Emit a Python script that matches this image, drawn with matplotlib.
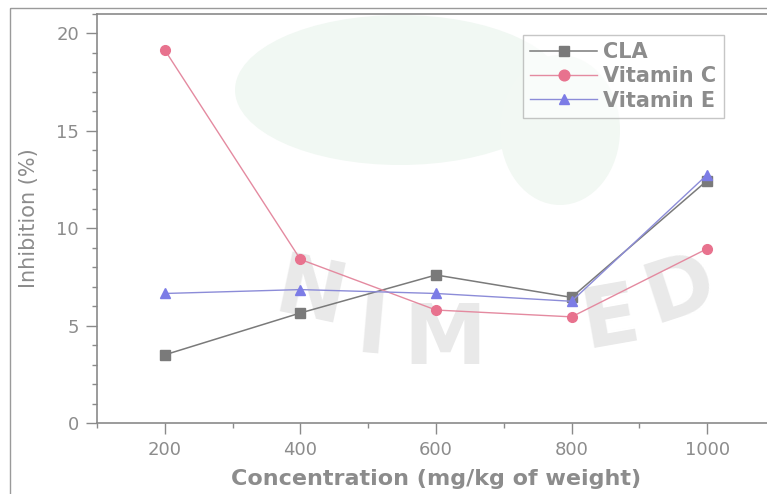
import numpy as np
import matplotlib.pyplot as plt
from matplotlib.patches import Rectangle, Ellipse
from matplotlib.ticker import MultipleLocator

# concentration (mg/kg of weight)
conc = [200, 400, 600, 800, 1000]

# inhibition (%)
cla = [3.5, 5.65, 7.6, 6.45, 12.45]
vit_c = [19.15, 8.4, 5.8, 5.45, 8.95]
vit_e = [6.65, 6.85, 6.65, 6.25, 12.75]

txt_col = "#8c8c8c"
ax_col = "#8a8a8a"

W, H = 767, 494
fig = plt.figure(figsize=(W / 100, H / 100), dpi=100)
fig.patch.set_facecolor("white")

# background layer: watermark and outer frame, in pixel coordinates
bg = fig.add_axes([0, 0, 1, 1], zorder=-1)
bg.set_xlim(0, W)
bg.set_ylim(H, 0)
bg.axis("off")
bg.add_patch(Ellipse((400, 90), 330, 150, facecolor="#f1f8f3", edgecolor="none"))
bg.add_patch(Ellipse((560, 130), 120, 150, facecolor="#f2f8f3", edgecolor="none"))
bg.add_patch(Rectangle((10, 8), W, H, fill=False, edgecolor="#9a9a9a", lw=1.0))

wm = dict(color="#e9e9e9", fontsize=60, fontweight="bold", family="DejaVu Sans",
          ha="center", va="center")
bg.text(310, 295, "N", rotation=-12, **wm)
bg.text(372, 330, "I", rotation=-5, **wm)
bg.text(445, 340, "M", rotation=0, **wm)
bg.text(610, 320, "E", rotation=10, **wm)
bg.text(680, 290, "D", rotation=18, **wm)

# axes placed in pixels: left 97, right ~775, bottom 423, top 14
left, right, bottom, top = 97, 775, 423, 14
ax = fig.add_axes([left / W, 1 - bottom / H, (right - left) / W, (bottom - top) / H])
ax.set_facecolor("none")

ax.plot(conc, cla, color="#7a7a7a", lw=1.1, marker="s", ms=7, mfc="#7a7a7a", mec="#7a7a7a",
        label="CLA", zorder=3)
ax.plot(conc, vit_c, color="#e48aa0", lw=1.0, marker="o", ms=7, mfc="#e8728e", mec="#e8728e",
        label="Vitamin C", zorder=3)
ax.plot(conc, vit_e, color="#8c8cd8", lw=1.0, marker="^", ms=7, mfc="#7c7ce6", mec="#7c7ce6",
        label="Vitamin E", zorder=3)

ax.set_xlim(100, 1100)
ax.set_ylim(0, 21)
ax.xaxis.set_major_locator(MultipleLocator(200))
ax.xaxis.set_minor_locator(MultipleLocator(100))
ax.yaxis.set_major_locator(MultipleLocator(5))
ax.yaxis.set_minor_locator(MultipleLocator(1))

ax.spines["right"].set_visible(False)
for s in ["left", "bottom", "top"]:
    ax.spines[s].set_color(ax_col)
    ax.spines[s].set_linewidth(1.2)

ax.tick_params(axis="both", which="major", direction="out", length=8, width=1, color=ax_col,
               labelcolor=txt_col, labelsize=13, pad=5)
ax.tick_params(axis="both", which="minor", direction="out", length=3.5, width=1, color=ax_col)

ax.set_xlabel("Concentration (mg/kg of weight)", fontsize=16, fontweight="bold", color=txt_col,
              labelpad=7)
ax.set_ylabel("Inhibition (%)", fontsize=15, color=txt_col, labelpad=12)

leg = ax.legend(loc="upper left", bbox_to_anchor=(523 / W, 1 - 35 / H), bbox_transform=fig.transFigure,
                frameon=True, fancybox=False, fontsize=15, handlelength=3.2, handletextpad=0.3,
                borderpad=0.35, labelspacing=0.2, borderaxespad=0, markerscale=1.1)
leg.get_frame().set_edgecolor("#a0a0a0")
leg.get_frame().set_linewidth(1.0)
leg.get_frame().set_facecolor("white")
leg.get_frame().set_alpha(0.6)
for t in leg.get_texts():
    t.set_color(txt_col)
    t.set_fontweight("bold")

fig.savefig("out.png", dpi=100)
